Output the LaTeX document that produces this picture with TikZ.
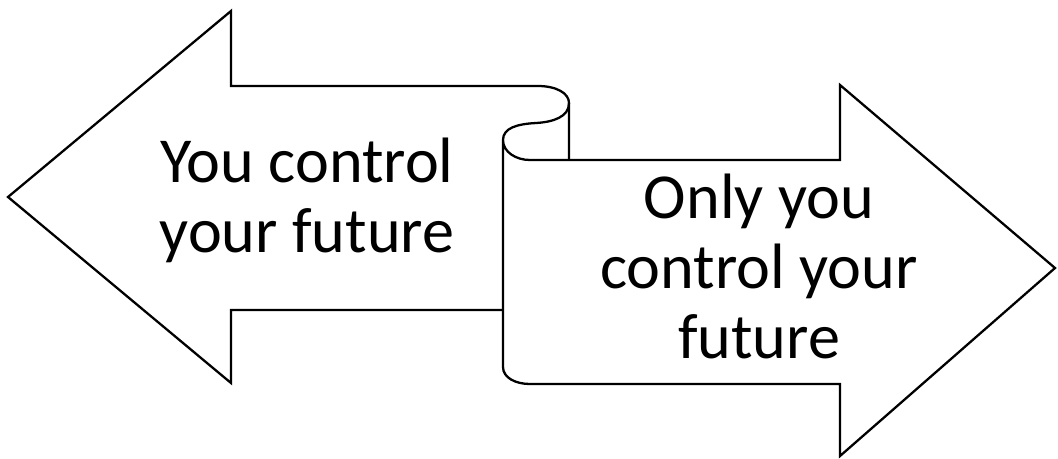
\documentclass[tikz,border=0pt]{standalone}
\usepackage{fontspec}
\setmainfont{Carlito}
\usepackage{tikz}
\usetikzlibrary{positioning}

\begin{document}
\begin{tikzpicture}[x=0.02cm,y=-0.02cm,line width=1.3pt,line join=miter,
                    outline/.style={draw=black,fill=white},
                    label text/.style={align=center,anchor=base,inner sep=0pt,
                      font=\fontsize{36.5}{39.8}\selectfont}]
  \useasboundingbox (0,0) rectangle (1058,458);

  % left arrow, its end rolls over into the scroll
  \draw (569,160) -- (569,103) .. controls (569,93) and (556,86) .. (538,86)
        -- (231,86) -- (231,11) -- (8,197) -- (231,383) -- (231,310) -- (503,310);
  % back of the roll
  \draw (569,103) .. controls (569,117) and (553,122) .. (536,123)
        .. controls (517,124) and (503,128) .. (503,140);

  % right arrow
  \draw[outline] (503,140) .. controls (503,152) and (516,160) .. (530,160)
        -- (840,160) -- (840,85) -- (1055,268) -- (840,456) -- (840,384)
        -- (530,384) .. controls (516,384) and (503,378) .. (503,367) -- cycle;

  \node[label text] (left) at (307,252) {You control\\your future};
  \node[label text] (right) at (759,358) {Only you\\control your\\future};
\end{tikzpicture}
\end{document}
